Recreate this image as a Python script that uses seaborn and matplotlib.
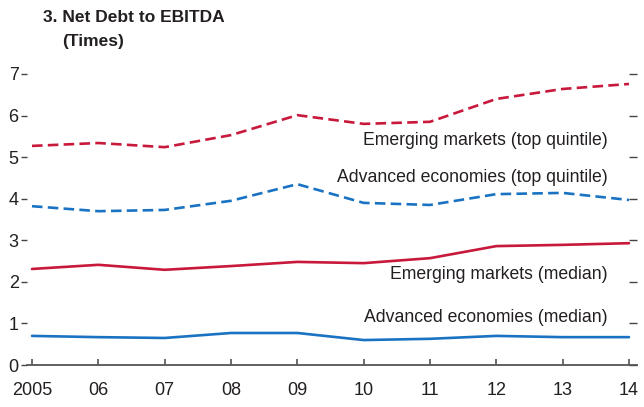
import matplotlib
matplotlib.use("Agg")
import matplotlib.pyplot as plt
import seaborn as sns
import pandas as pd

years = [2005, 2006, 2007, 2008, 2009, 2010, 2011, 2012, 2013, 2014]
year_labels = ["2005", "06", "07", "08", "09", "10", "11", "12", "13", "14"]
em_top = [5.27, 5.34, 5.24, 5.53, 6.01, 5.80, 5.85, 6.40, 6.64, 6.76]
ae_top = [3.82, 3.70, 3.73, 3.95, 4.35, 3.90, 3.85, 4.11, 4.14, 3.97]
em_med = [2.31, 2.41, 2.29, 2.38, 2.48, 2.45, 2.57, 2.86, 2.89, 2.93]
ae_med = [0.70, 0.67, 0.65, 0.77, 0.77, 0.60, 0.63, 0.70, 0.67, 0.67]
series_names = ["Emerging markets (top quintile)", "Advanced economies (top quintile)",
                "Emerging markets (median)", "Advanced economies (median)"]
yticks = [0, 1, 2, 3, 4, 5, 6, 7]

sns.set_style("white")
FONT = ["Liberation Sans Narrow", "Liberation Sans", "DejaVu Sans"]
plt.rcParams["font.family"] = FONT
TXT = "#231f20"

df = pd.DataFrame({
    "year": years * 4,
    "value": em_top + ae_top + em_med + ae_med,
    "series": [series_names[0]] * 10 + [series_names[1]] * 10 + [series_names[2]] * 10 + [series_names[3]] * 10,
})

RED = "#C8193C"
BLUE = "#1A73C2"
palette = {series_names[0]: RED, series_names[1]: BLUE, series_names[2]: RED, series_names[3]: BLUE}
dashes = {series_names[0]: (4, 2), series_names[1]: (4, 2), series_names[2]: "", series_names[3]: ""}

fig = plt.figure(figsize=(6.44, 4.07), dpi=100)
W, H = 644, 407
left_px, right_px = 27, 637
bottom_px, top_px = 365, 60
ax = fig.add_axes([left_px / W, 1 - bottom_px / H, (right_px - left_px) / W, (bottom_px - top_px) / H])

sns.lineplot(data=df, x="year", y="value", hue="series", style="series",
             palette=palette, dashes=dashes, linewidth=1.9, legend=False, ax=ax)

px_per_year = (629 - 32) / 9
ax.set_xlim(2005 - (32 - left_px) / px_per_year, 2014 + (right_px - 629) / px_per_year)
px_per_unit = (365 - 74) / 7
ax.set_ylim(0, (bottom_px - top_px) / px_per_unit)

ax.set_xticks(years)
ax.set_xticklabels(year_labels)
ax.set_yticks(yticks)
ax.set_yticklabels([str(t) for t in yticks])
ax.set_xlabel("")
ax.set_ylabel("")

for s in ["top", "left", "right"]:
    ax.spines[s].set_visible(False)
ax.spines["bottom"].set_color("#555555")
ax.spines["bottom"].set_linewidth(1.3)

ax.tick_params(axis="x", direction="in", length=4.5, width=1.1, color="#444444",
               labelsize=13, labelcolor=TXT, pad=12, bottom=True)
ax.tick_params(axis="y", direction="out", length=4, width=1.0, color="#444444",
               labelsize=13, labelcolor=TXT, pad=2, left=True, right=True, labelright=False)
for t in ax.yaxis.get_major_ticks():
    t.tick2line.set_markersize(6)
    t.tick2line.set_marker(0)  # drawn inward from right edge

label_x = 2005 + (608 - 32) / px_per_year
label_y = [5.41, 4.52, 2.17, 1.15]
for name, yv in zip(series_names, label_y):
    ax.text(label_x, yv, name, ha="right", va="center", fontsize=12.7, color=TXT)

fig.text(43 / W, 1 - 10 / H, "3. Net Debt to EBITDA", ha="left", va="top",
         fontsize=12.5, fontweight="bold", color=TXT)
fig.text(62 / W, 1 - 34 / H, "(Times)", ha="left", va="top",
         fontsize=12.5, fontweight="bold", color=TXT)

fig.savefig("out.png", dpi=100)
